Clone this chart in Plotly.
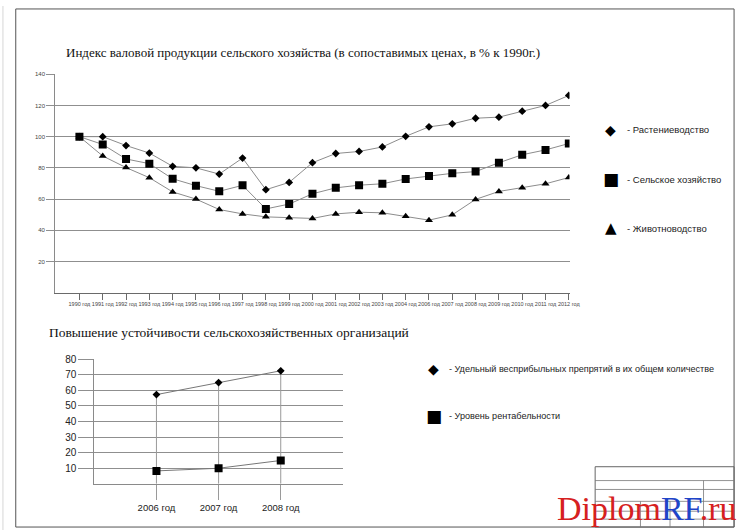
import plotly.graph_objects as go

W, H = 750, 530

# --- top chart data (index, % of 1990) ---
years_top = ["1990 год", "1991 год", "1992 год", "1993 год", "1994 год", "1995 год",
             "1996 год", "1997 год", "1998 год", "1999 год", "2000 год", "2001 год",
             "2002 год", "2003 год", "2004 год", "2006 год", "2007 год", "2008 год",
             "2009 год", "2010 год", "2011 год", "2012 год"]
rast = [100, 100, 94.3, 89.5, 81, 80, 76, 86.3, 66, 70.7, 83.3, 89.2,
        90.5, 93.4, 100.2, 106.3, 108.2, 111.8, 112.5, 116.3, 120, 126.4]
selkh = [100, 95, 85.7, 82.7, 73, 68.6, 65, 68.8, 53.7, 56.8, 63.4, 67.2,
         68.9, 69.8, 72.9, 74.8, 76.5, 77.6, 83.3, 88.4, 91.5, 95.6]
zhiv = [100, 87.6, 80.2, 73.7, 64.6, 60, 53.3, 50.5, 48.6, 48, 47.6, 50.5,
        51.6, 51.2, 49, 46.5, 49.9, 59.8, 64.9, 67.2, 69.8, 73.8]

# --- bottom chart data ---
years_bot = ["2006 год", "2007 год", "2008 год"]
udel = [57.3, 65, 72.6]
rent = [8.3, 10, 15]


def px_x(p):
    return p / W


def px_y(p):
    return 1 - p / H


xi = list(range(len(years_top)))
xb = [i + 1 for i in range(len(years_bot))]

fig = go.Figure()

line_top = dict(color="#8c8c8c", width=1)
fig.add_trace(go.Scatter(x=xi, y=rast, mode="lines+markers", line=line_top,
                         marker=dict(symbol="diamond", size=6, color="black"),
                         showlegend=False))
fig.add_trace(go.Scatter(x=xi, y=zhiv, mode="lines+markers", line=line_top,
                         marker=dict(symbol="triangle-up", size=7, color="black"),
                         showlegend=False))
fig.add_trace(go.Scatter(x=xi, y=selkh, mode="lines+markers", line=line_top,
                         marker=dict(symbol="square", size=8, color="black"),
                         showlegend=False))

# drop lines on the bottom chart
dx, dy = [], []
for c, v in zip(xb, udel):
    dx += [c, c, None]
    dy += [0, v, None]
fig.add_trace(go.Scatter(x=dx, y=dy, mode="lines", xaxis="x2", yaxis="y2",
                         line=dict(color="#9a9a9a", width=1), showlegend=False))
fig.add_trace(go.Scatter(x=xb, y=udel, mode="lines+markers", xaxis="x2", yaxis="y2",
                         line=dict(color="#777777", width=1),
                         marker=dict(symbol="diamond", size=6, color="black"),
                         showlegend=False))
fig.add_trace(go.Scatter(x=xb, y=rent, mode="lines+markers", xaxis="x2", yaxis="y2",
                         line=dict(color="#777777", width=1),
                         marker=dict(symbol="square", size=8, color="black"),
                         showlegend=False))

grid = "#8f8f8f"
fig.update_layout(
    width=W, height=H,
    margin=dict(l=0, r=0, t=0, b=0),
    paper_bgcolor="white", plot_bgcolor="white",
    font=dict(family="Liberation Sans, Arial", color="#333333"),
    xaxis=dict(domain=[px_x(56), px_x(578)], range=[-1.04, 21.03],
               tickvals=xi, ticktext=years_top, tickangle=0,
               showgrid=False, showline=True, linecolor="#6a6a6a", linewidth=1,
               ticks="outside", ticklen=6, tickcolor="#6a6a6a",
               tickfont=dict(size=5.5, color="#444444"), zeroline=False),
    yaxis=dict(domain=[px_y(290), px_y(69)], range=[0, 140],
               tickvals=[20, 40, 60, 80, 100, 120, 140],
               showgrid=True, gridcolor=grid, gridwidth=1,
               showline=True, linecolor="#8a8a8a", linewidth=1,
               ticks="outside", ticklen=8, tickcolor=grid,
               tickfont=dict(size=6, color="#444444"), zeroline=False),
    xaxis2=dict(domain=[px_x(95.7), px_x(348)], range=[0, 4], anchor="y2",
                tickvals=xb, ticktext=years_bot, tickangle=0,
                showgrid=False, showline=True, linecolor="#8a8a8a", linewidth=1,
                ticks="outside", ticklen=15, tickcolor="#9a9a9a",
                tickfont=dict(size=9.5, color="#222222"), zeroline=False),
    yaxis2=dict(domain=[px_y(483.3), px_y(357.3)], range=[0, 80], anchor="x2",
                tickvals=[10, 20, 30, 40, 50, 60, 70, 80],
                showgrid=True, gridcolor=grid, gridwidth=1,
                showline=True, linecolor="#8a8a8a", linewidth=1,
                ticks="outside", ticklen=15, tickcolor=grid,
                tickfont=dict(size=10, color="#222222"), zeroline=False),
)

serif = "Liberation Serif, Times New Roman, serif"
ann = [
    dict(text="Индекс валовой продукции сельского хозяйства (в сопоставимых ценах, в % к 1990г.)",
         x=px_x(308), y=px_y(47), font=dict(family=serif, size=13, color="#111111")),
    dict(text="Повышение устойчивости сельскохозяйственных организаций",
         x=px_x(232), y=px_y(330), font=dict(family=serif, size=13.5, color="#111111")),
]
# legends
leg_sym = dict(family="DejaVu Sans", color="black")
for sym, sz, label, fs, xs, ys in [
        ("◆", 14, "- Растениеводство", 9.5, 620, 125),
        ("■", 17, "- Сельское хозяйство", 9.5, 620, 175),
        ("▲", 15, "- Животноводство", 9.5, 620, 225),
        ("◆", 14, "- Удельный весприбыльных препрятий в их общем количестве", 9.1, 440, 367),
        ("■", 17, "- Уровень рентабельности", 9.1, 440, 415)]:
    ann.append(dict(text=sym, x=px_x(xs), y=px_y(ys), font=dict(size=sz, **leg_sym)))
    ann.append(dict(text=label, x=px_x(xs + 14), y=px_y(ys), xanchor="left",
                    font=dict(family="Liberation Sans, Arial", size=fs, color="#222222")))

# watermark
ann.append(dict(text="<span style='color:#d62020'>Diplom</span><span style='color:#1f45c8'>RF</span>"
                     "<span style='color:#d62020'>.ru</span>",
                x=px_x(657), y=px_y(508), font=dict(family=serif, size=34)))

for a in ann:
    a.setdefault("xref", "paper")
    a.setdefault("yref", "paper")
    a.setdefault("showarrow", False)
    a.setdefault("xanchor", "center")
    a.setdefault("yanchor", "middle")
fig.update_layout(annotations=ann)

# sheet frame and title block
shp = []


def rect(x0, y0, x1, y1, color="#555555", width=1):
    shp.append(dict(type="rect", xref="paper", yref="paper",
                    x0=px_x(x0), x1=px_x(x1), y0=px_y(y0), y1=px_y(y1),
                    line=dict(color=color, width=width)))


def hline(x0, x1, y, color="#777777"):
    shp.append(dict(type="line", xref="paper", yref="paper",
                    x0=px_x(x0), x1=px_x(x1), y0=px_y(y), y1=px_y(y),
                    line=dict(color=color, width=0.8)))


def vline(x, y0, y1, color="#777777"):
    shp.append(dict(type="line", xref="paper", yref="paper",
                    x0=px_x(x), x1=px_x(x), y0=px_y(y0), y1=px_y(y1),
                    line=dict(color=color, width=0.8)))


rect(16, 3, 745, 527)
vline(3, 0, 530, "#cccccc")
rect(604, 466, 745, 527, "#666666")
hline(604, 745, 480)
hline(604, 745, 489)
hline(604, 745, 501)
hline(604, 745, 511)
hline(604, 745, 519)
vline(714, 480, 527)
vline(680, 501, 527)
vline(650, 501, 527)
fig.update_layout(shapes=shp)

pin = ("document.body.style.margin='0';document.body.style.overflow='hidden';"
       "var d=document.getElementsByClassName('plotly-graph-div')[0];"
       "d.style.position='fixed';d.style.left='0px';d.style.top='0px';")
fig.write_html("out.html", config={"displayModeBar": False}, post_script=pin)
